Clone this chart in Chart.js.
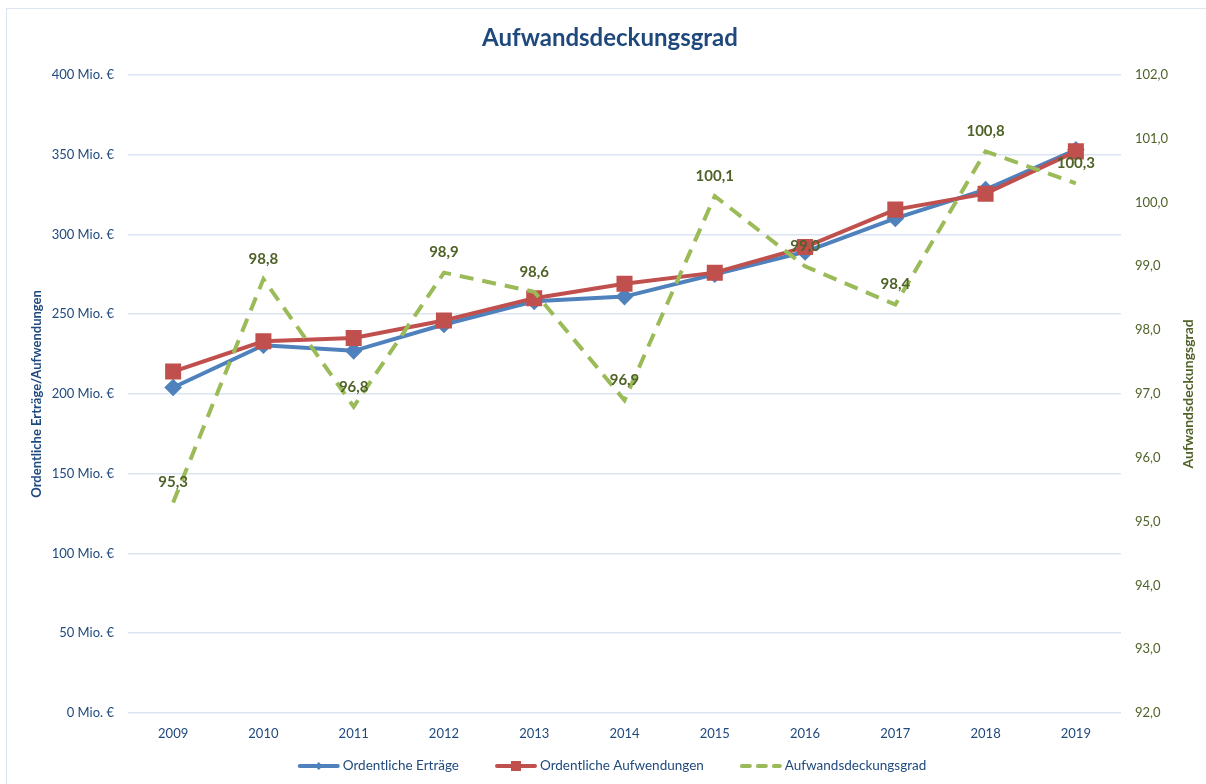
<!DOCTYPE html>
<html>
<head>
<meta charset="utf-8">
<script src="https://cdn.jsdelivr.net/npm/chart.js@4"></script>
<style>
  html, body { margin: 0; padding: 0; background: #fff; overflow: hidden; }
  #wrap { position: relative; width: 1206px; height: 784px; }
  #frame { position: absolute; left: 6px; top: 8px; width: 1300px; height: 900px; border: 1px solid #dbe5f1; }
  canvas { position: absolute; left: 0; top: 0; }
</style>
</head>
<body>
<div id="wrap">
  <div id="frame"></div>
  <canvas id="chart" width="1206" height="784"></canvas>
</div>
<script>
const jahre = ["2009", "2010", "2011", "2012", "2013", "2014", "2015", "2016", "2017", "2018", "2019"];
// Mio. €
const ertraege = [204, 230.5, 227, 243.5, 258, 261, 275, 289, 310, 328, 353];
const aufwendungen = [214, 233, 235, 246, 260, 269, 276, 292, 315.5, 325.5, 352];
// Prozent
const deckungsgrad = [95.3, 98.8, 96.8, 98.9, 98.6, 96.9, 100.1, 99.0, 98.4, 100.8, 100.3];

const FONT = "Lato, 'Open Sans', sans-serif";
const BLAU = "#4f81bd", ROT = "#c0504d", GRUEN = "#9bbb59";
const TEXT_BLAU = "#1f497d", TEXT_GRUEN = "#4f6228";

function komma(v) {
  return v.toFixed(1).replace(".", ",");
}

// Datenbeschriftungen + Achsentitel + Legende
const extras = {
  id: "extras",
  afterDatasetsDraw(chart) {
    const ctx = chart.ctx;
    const meta = chart.getDatasetMeta(2);
    ctx.save();
    ctx.font = "bold 15px " + FONT;
    ctx.fillStyle = TEXT_GRUEN;
    ctx.textAlign = "center";
    ctx.textBaseline = "middle";
    meta.data.forEach((pt, i) => {
      ctx.fillText(komma(deckungsgrad[i]), pt.x, pt.y - 20);
    });
    ctx.restore();
  },
  afterDraw(chart) {
    const ctx = chart.ctx;
    const area = chart.chartArea;
    const mitte = (area.top + area.bottom) / 2;
    ctx.save();
    ctx.font = "bold 13px " + FONT;
    ctx.textAlign = "center";
    ctx.textBaseline = "middle";
    // linker Titel
    ctx.translate(37, mitte);
    ctx.rotate(-Math.PI / 2);
    ctx.fillStyle = TEXT_BLAU;
    ctx.fillText("Ordentliche Erträge/Aufwendungen", 0, 0);
    ctx.restore();
    ctx.save();
    ctx.font = "bold 14px " + FONT;
    ctx.textAlign = "center";
    ctx.textBaseline = "middle";
    ctx.translate(1188, mitte);
    ctx.rotate(-Math.PI / 2);
    ctx.fillStyle = TEXT_GRUEN;
    ctx.fillText("Aufwandsdeckungsgrad", 0, 0);
    ctx.restore();

    // Legende
    const eintraege = [
      { text: "Ordentliche Erträge", farbe: BLAU, marker: "raute" },
      { text: "Ordentliche Aufwendungen", farbe: ROT, marker: "quadrat" },
      { text: "Aufwandsdeckungsgrad", farbe: GRUEN, marker: "strich" }
    ];
    ctx.save();
    ctx.font = "13.5px " + FONT;
    ctx.textBaseline = "middle";
    const y = 766;
    const linie = 42, abstand = 36;
    let gesamt = 0;
    eintraege.forEach(e => { e.w = ctx.measureText(e.text).width; gesamt += linie + 3 + e.w; });
    gesamt += abstand * (eintraege.length - 1);
    let x = 612 - gesamt / 2;
    eintraege.forEach(e => {
      ctx.strokeStyle = e.farbe;
      ctx.lineWidth = 4;
      ctx.lineCap = "round";
      if (e.marker === "strich") ctx.setLineDash([8, 8]);
      ctx.beginPath();
      ctx.moveTo(x + 2, y);
      ctx.lineTo(x + linie - 2, y);
      ctx.stroke();
      ctx.setLineDash([]);
      ctx.fillStyle = e.farbe;
      const mx = x + linie / 2;
      if (e.marker === "raute") {
        ctx.beginPath();
        ctx.moveTo(mx, y - 4); ctx.lineTo(mx + 4, y); ctx.lineTo(mx, y + 4); ctx.lineTo(mx - 4, y);
        ctx.closePath(); ctx.fill();
      } else if (e.marker === "quadrat") {
        ctx.fillRect(mx - 5, y - 5, 10, 10);
      }
      ctx.fillStyle = TEXT_BLAU;
      ctx.fillText(e.text, x + linie + 3, y);
      x += linie + 3 + e.w + abstand;
    });
    ctx.restore();
  }
};

new Chart(document.getElementById("chart"), {
  type: "line",
  data: {
    labels: jahre,
    datasets: [
      {
        label: "Ordentliche Erträge",
        data: ertraege,
        yAxisID: "y",
        order: 2,
        borderColor: BLAU,
        backgroundColor: BLAU,
        borderWidth: 4,
        pointStyle: "rectRot",
        pointRadius: 6,
        pointHoverRadius: 6,
        tension: 0
      },
      {
        label: "Ordentliche Aufwendungen",
        data: aufwendungen,
        yAxisID: "y",
        order: 1,
        borderColor: ROT,
        backgroundColor: ROT,
        borderWidth: 4,
        pointStyle: "rect",
        pointRadius: 8.5,
        pointHoverRadius: 8.5,
        tension: 0
      },
      {
        label: "Aufwandsdeckungsgrad",
        data: deckungsgrad,
        yAxisID: "y1",
        order: 0,
        borderColor: GRUEN,
        backgroundColor: GRUEN,
        borderWidth: 4,
        borderDash: [14, 9],
        pointRadius: 0,
        tension: 0
      }
    ]
  },
  options: {
    responsive: false,
    animation: false,
    layout: { padding: { left: 24, right: 10, top: 0, bottom: 0 } },
    plugins: {
      legend: { display: false },
      tooltip: { enabled: false },
      title: {
        display: true,
        text: "Aufwandsdeckungsgrad",
        color: TEXT_BLAU,
        font: { family: FONT, size: 24, weight: "bold" },
        padding: { top: 24, bottom: 22 }
      }
    },
    scales: {
      x: {
        offset: true,
        grid: { display: false },
        border: { display: false },
        ticks: { color: TEXT_BLAU, font: { family: FONT, size: 13 }, padding: 5 },
        afterFit(scale) { scale.height = 71; }
      },
      y: {
        position: "left",
        min: 0,
        max: 400,
        ticks: {
          stepSize: 50,
          color: TEXT_BLAU,
          font: { family: FONT, size: 13 },
          padding: 14,
          callback: v => v + " Mio. €"
        },
        grid: { color: "#dbe5f1", lineWidth: 1.5, drawTicks: false },
        border: { display: false },
        afterFit(scale) { scale.width = 104; }
      },
      y1: {
        position: "right",
        min: 92,
        max: 102,
        ticks: {
          stepSize: 1,
          color: TEXT_GRUEN,
          font: { family: FONT, size: 13 },
          padding: 14,
          callback: v => komma(v)
        },
        grid: { display: false, drawTicks: false },
        border: { display: false },
        afterFit(scale) { scale.width = 75; }
      }
    }
  },
  plugins: [extras]
});
</script>
</body>
</html>
